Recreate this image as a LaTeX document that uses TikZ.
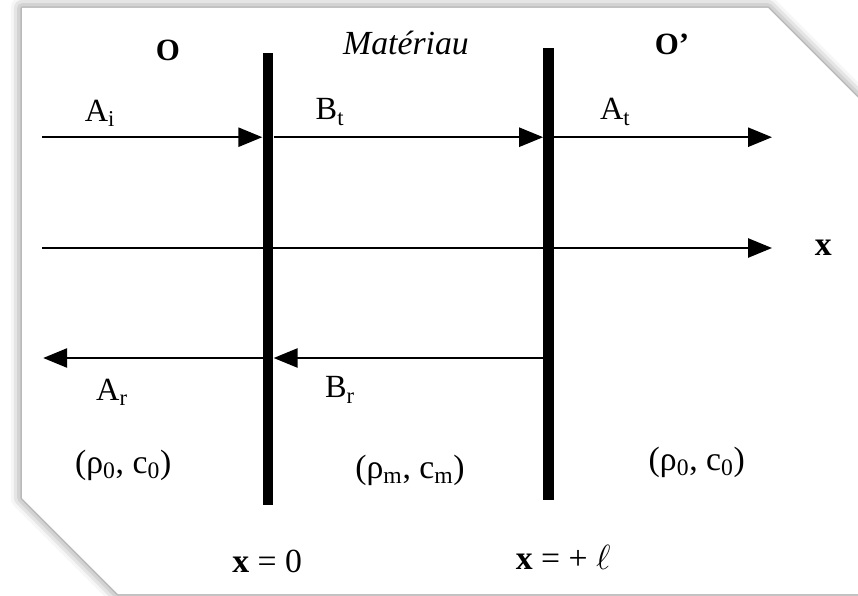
\documentclass[tikz,border=0pt]{standalone}
\usepackage{fontspec}
\setmainfont{Liberation Serif}
\usetikzlibrary{arrows.meta, shadows.blur}

\begin{document}
\begin{tikzpicture}[
  every node/.style={font=\fontsize{19}{22}\selectfont},
  card/.style={fill=white, blur shadow={shadow xshift=0pt, shadow yshift=0pt, shadow blur radius=8pt, shadow opacity=55}},
  wall/.style={fill=black, minimum width=0.27cm, minimum height=11.3cm, inner sep=0pt},
  ray/.style={-{Triangle[length=0.6cm, width=0.48cm, fill=black]}, draw=black, line width=1.4pt},
  region/.style={font=\fontsize{22}{26}\selectfont\bfseries},
  amp/.style={font=\fontsize{23}{26}\selectfont},
  medium/.style={font=\fontsize{24}{28}\selectfont\itshape},
  prop/.style={font=\fontsize{24}{28}\selectfont},
  xpos/.style={font=\fontsize{24}{28}\selectfont}
]

\useasboundingbox (0,0) rectangle (21.45,-14.9);
\clip (0,0) rectangle (21.45,-14.9);

% Card with cut corners
\path[card] (0.55,-0.2) -- (19.2,-0.2) -- (21.8,-2.8) -- (21.8,-14.85)
  -- (2.95,-14.85) -- (0.55,-12.45) -- cycle;

% === INTERFACES ===
\node[wall] (wl) at (6.7,-6.98)  {};
\node[wall] (wr) at (13.72,-6.85) {};

% Free ends of the rays
\coordinate (inc) at (1.05,-3.43);
\coordinate (tra) at (19.3,-3.43);
\coordinate (ax0) at (1.05,-6.2);
\coordinate (ax1) at (19.3,-6.2);
\coordinate (ref) at (1.08,-8.95);

% === WAVES ===
\draw[ray] (inc) -- (inc -| wl.west);
\draw[ray] (inc -| wl.east) -- (inc -| wr.west);
\draw[ray] (inc -| wr.east) -- (tra);
\draw[ray] (ax0) -- (ax1);
\draw[ray] (ref -| wr.center) -- (ref -| wl.east);
\draw[ray] (ref -| wl.center) -- (ref);

% redraw walls on top
\node[wall] at (wl) {};
\node[wall] at (wr) {};

% === LABELS ===
\node[region] (o)   at (4.2,-1.25)  {O};
\node[medium] (mat) at (10.15,-1.08) {Matériau};
\node[region] (op)  at (16.8,-1.12) {O’};

\node[amp] (ai) at (2.5,-2.83)  {A\textsubscript{i}};
\node[amp] (bt) at (8.25,-2.8)  {B\textsubscript{t}};
\node[amp] (at) at (15.38,-2.8) {A\textsubscript{t}};
\node[amp] (ar) at (2.8,-9.8)   {A\textsubscript{r}};
\node[amp] (br) at (8.5,-9.75)  {B\textsubscript{r}};

\node[region, font=\fontsize{24}{28}\selectfont\bfseries] (xa) at (20.58,-6.2) {x};

\node[prop] (p0) at (3.08,-11.63)  {(ρ\textsubscript{0}, c\textsubscript{0})};
\node[prop] (pm) at (10.25,-11.75) {(ρ\textsubscript{m}, c\textsubscript{m})};
\node[prop] (p1) at (17.42,-11.55) {(ρ\textsubscript{0}, c\textsubscript{0})};

\node[xpos] (x0) at (6.68,-14.03) {\textbf{x} = 0};
\node[xpos] (xl) at (14.08,-13.93) {\textbf{x} = + $\ell$};

\end{tikzpicture}
\end{document}
